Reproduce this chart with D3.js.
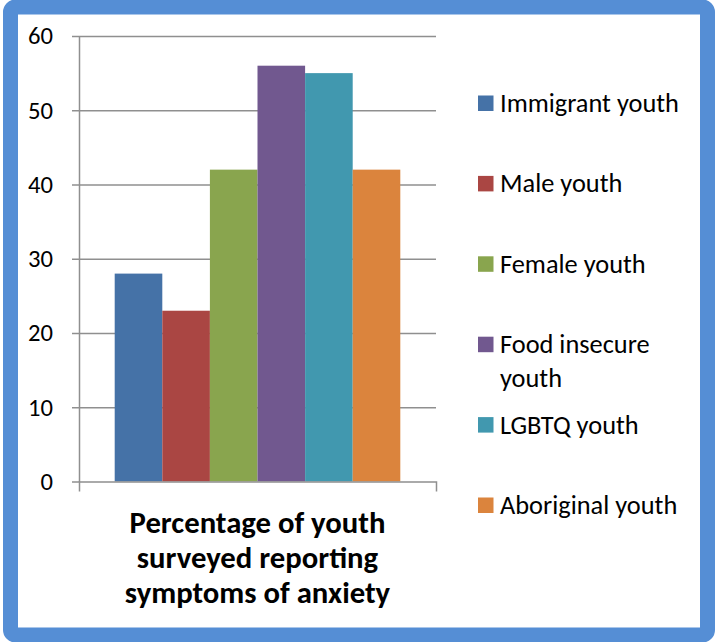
<!DOCTYPE html>
<html>
<head>
<meta charset="utf-8">
<script src="https://cdn.jsdelivr.net/npm/d3@7"></script>
<style>
  html, body { margin: 0; padding: 0; background: #ffffff; }
  svg { display: block; }
  text { font-family: Calibri, Carlito, Lato, sans-serif; fill: #000; }
</style>
</head>
<body>
<svg id="chart" width="715" height="642"></svg>
<script>
// Survey results: share of youth reporting symptoms of anxiety, by group
const category = "Percentage of youth surveyed reporting symptoms of anxiety";
const categoryLines = ["Percentage of youth", "surveyed reporting", "symptoms of anxiety"];
const series = ["Immigrant youth", "Male youth", "Female youth", "Food insecure youth", "LGBTQ youth", "Aboriginal youth"];
const legendLines = [["Immigrant youth"], ["Male youth"], ["Female youth"], ["Food insecure", "youth"], ["LGBTQ youth"], ["Aboriginal youth"]];
const values = [28, 23, 42, 56, 55, 42];
const colors = ["#4572A7", "#AA4643", "#89A54E", "#71588F", "#4198AF", "#DB843D"];
const yTicks = [0, 10, 20, 30, 40, 50, 60];

const svg = d3.select("#chart");

// frame
svg.append("rect")
  .attr("x", 10.5).attr("y", 7).attr("width", 697).attr("height", 628)
  .attr("rx", 5).attr("ry", 5)
  .attr("fill", "#ffffff").attr("stroke", "#558ED5").attr("stroke-width", 15);

const plot = { left: 79, right: 436, top: 36, bottom: 481.5 };

const y = d3.scaleLinear().domain([0, 60]).range([plot.bottom, plot.top]);
const x0 = d3.scaleBand().domain([category]).range([plot.left, plot.right]).padding(0);
const x1 = d3.scaleBand().domain(series).range([0, x0.bandwidth()])
  .paddingInner(0).paddingOuter(0.75);

// font size that makes a text render at the given width
function fitSize(sel, target) {
  const node = sel.node();
  const fs = parseFloat(sel.attr("font-size"));
  const w = node.getComputedTextLength();
  return fs * target / w;
}

// gridlines
svg.append("g")
  .attr("transform", `translate(${plot.left},0)`)
  .call(d3.axisLeft(y).tickValues(yTicks.filter(d => d > 0))
    .tickSize(-(plot.right - plot.left)).tickFormat(""))
  .call(g => g.select(".domain").remove())
  .call(g => g.selectAll("line").attr("stroke", "#8f8f8f").attr("stroke-width", 1.5));

// bars
svg.append("g")
  .attr("transform", `translate(${x0(category)},0)`)
  .selectAll("rect")
  .data(series)
  .join("rect")
  .attr("x", d => x1(d))
  .attr("y", (d, i) => y(values[i]))
  .attr("width", x1.bandwidth())
  .attr("height", (d, i) => y(0) - y(values[i]))
  .attr("fill", (d, i) => colors[i]);

// y axis
const yAxis = svg.append("g")
  .attr("transform", `translate(${plot.left},0)`)
  .call(d3.axisLeft(y).tickValues(yTicks).tickSize(7).tickSizeOuter(0).tickPadding(19));
yAxis.select(".domain").attr("stroke", "#8f8f8f").attr("stroke-width", 1.5);
yAxis.selectAll("line").attr("stroke", "#8f8f8f").attr("stroke-width", 1.5);
const tl = yAxis.selectAll("text").attr("font-size", 20).attr("font-family", "Calibri, Carlito, Lato, sans-serif").attr("fill", "#000");
const tickSize = fitSize(yAxis.selectAll("text").filter(d => d === 60), 25);
tl.attr("font-size", tickSize);

// x axis
const xAxis = svg.append("g")
  .attr("transform", `translate(0,${plot.bottom})`)
  .call(d3.axisBottom(x0).tickValues([]).tickSizeOuter(10));
xAxis.select(".domain").attr("stroke", "#8f8f8f").attr("stroke-width", 1.5).attr("fill", "none");

// category label, wrapped on three lines
const cx = x0(category) + x0.bandwidth() / 2;
const measure = svg.append("text").attr("font-weight", "bold").attr("font-size", 28).text(categoryLines[0]);
const titleSize = fitSize(measure, 256);
measure.remove();
categoryLines.forEach((line, i) => {
  svg.append("text")
    .attr("x", cx).attr("y", 533 + i * 35)
    .attr("text-anchor", "middle")
    .attr("font-weight", "bold")
    .attr("font-size", titleSize)
    .text(line);
});

// legend
const legend = svg.append("g");
const probe = svg.append("text").attr("font-size", 22).text(series[0]);
const legendSize = fitSize(probe, 179);
probe.remove();
legendLines.forEach((lines, i) => {
  const base = 112 + i * 80.4;
  legend.append("rect")
    .attr("x", 478).attr("y", base - 16.5)
    .attr("width", 15.5).attr("height", 15.5)
    .attr("fill", colors[i]);
  const t = legend.append("text").attr("font-size", legendSize);
  lines.forEach((l, j) => {
    t.append("tspan").attr("x", 500).attr("y", base + j * 34).text(l);
  });
});
</script>
</body>
</html>
